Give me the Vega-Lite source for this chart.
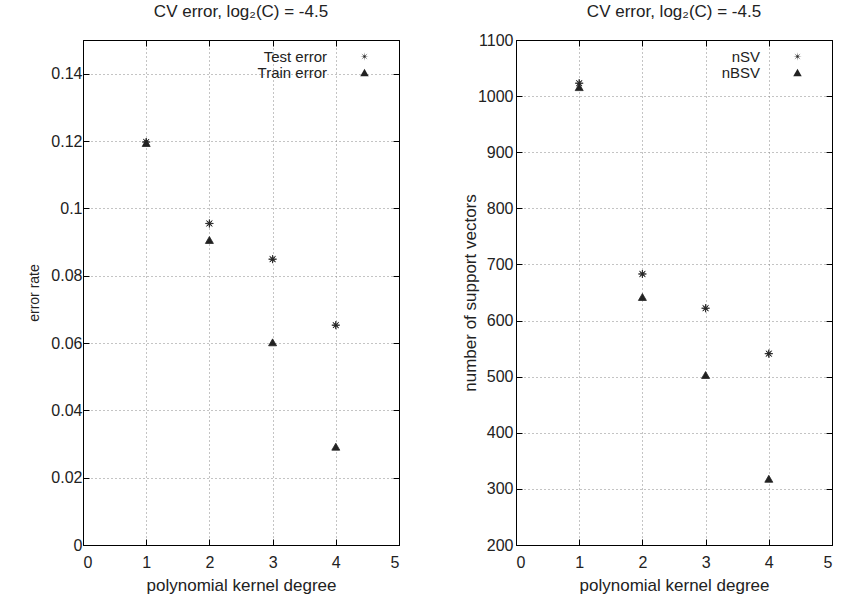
{
  "$schema": "https://vega.github.io/schema/vega-lite/v6.json",
  "background": "white",
  "padding": {"left": 27, "top": 2, "right": 0, "bottom": 0},
  "spacing": 60,
  "config": {
    "font": "Liberation Sans",
    "view": {"stroke": "black", "strokeWidth": 1},
    "axis": {
      "labelFontSize": 16, "labelColor": "#222", "labelFont": "Liberation Sans",
      "titleFontSize": 17, "titleFontWeight": "normal", "titleColor": "#222", "titleFont": "Liberation Sans",
      "domainColor": "black", "tickColor": "black", "tickSize": -6,
      "gridColor": "#888", "gridDash": [1, 3], "gridWidth": 1, "gridOpacity": 1
    },
    "title": {"fontSize": 17, "fontWeight": "normal", "color": "#222", "font": "Liberation Sans"},
    "legend": {
      "orient": "none", "legendX": 169, "legendY": 9, "padding": 0,
      "labelFontSize": 15, "labelColor": "#222", "labelAlign": "right",
      "symbolOffset": 105, "labelOffset": -45, "rowPadding": -5,
      "symbolFillColor": "#222", "symbolStrokeColor": "#222", "symbolStrokeWidth": 1.3, "symbolSize": 72, "title": null
    }
  },
  "datasets": {
    "errors": [
      {"degree": 1, "series": "Test error", "value": 0.1197},
      {"degree": 2, "series": "Test error", "value": 0.0955},
      {"degree": 3, "series": "Test error", "value": 0.0849},
      {"degree": 4, "series": "Test error", "value": 0.0653},
      {"degree": 1, "series": "Train error", "value": 0.1194},
      {"degree": 2, "series": "Train error", "value": 0.0906},
      {"degree": 3, "series": "Train error", "value": 0.0602},
      {"degree": 4, "series": "Train error", "value": 0.0292}
    ],
    "svs": [
      {"degree": 1, "series": "nSV", "count": 1023},
      {"degree": 2, "series": "nSV", "count": 683},
      {"degree": 3, "series": "nSV", "count": 622},
      {"degree": 4, "series": "nSV", "count": 541},
      {"degree": 1, "series": "nBSV", "count": 1016},
      {"degree": 2, "series": "nBSV", "count": 642},
      {"degree": 3, "series": "nBSV", "count": 503},
      {"degree": 4, "series": "nBSV", "count": 318}
    ]
  },
  "hconcat": [
    {
      "width": 316, "height": 505,
      "title": {"text": "CV error, log₂(C) = -4.5", "offset": 19},
      "data": {"name": "errors"},
      "layer": [
        {
          "mark": {"type": "point", "filled": true, "color": "#222", "stroke": "#222", "strokeWidth": 0.8, "opacity": 1, "size": 64},
          "encoding": {
            "x": {"field": "degree", "type": "quantitative", "scale": {"domain": [0, 5], "nice": false},
                  "axis": {"values": [0, 1, 2, 3, 4, 5], "title": "polynomial kernel degree", "labelPadding": 15, "titlePadding": 7}},
            "y": {"field": "value", "type": "quantitative", "scale": {"domain": [0, 0.15], "nice": false},
                  "axis": {"values": [0, 0.02, 0.04, 0.06, 0.08, 0.1, 0.12, 0.14], "format": "~g", "title": "error rate", "titleFontSize": 14, "labelPadding": 7, "titlePadding": 9}},
            "shape": {"field": "series", "type": "nominal", "sort": ["Test error", "Train error"],
                      "scale": {"domain": ["Test error", "Train error"], "range": ["M1,0L0.185,0.077L0.707,0.707L0.077,0.185L0,1L-0.077,0.185L-0.707,0.707L-0.185,0.077L-1,0L-0.185,-0.077L-0.707,-0.707L-0.077,-0.185L0,-1L0.077,-0.185L0.707,-0.707L0.185,-0.077Z", "triangle-up"]}}
          }
        },
        {
          "mark": {"type": "point", "opacity": 0},
          "encoding": {
            "x": {"field": "degree", "type": "quantitative",
                  "axis": {"orient": "top", "values": [0, 1, 2, 3, 4, 5], "labels": false, "grid": false, "title": null}},
            "y": {"field": "value", "type": "quantitative",
                  "axis": {"orient": "right", "values": [0, 0.02, 0.04, 0.06, 0.08, 0.1, 0.12, 0.14], "labels": false, "grid": false, "title": null}}
          }
        }
      ],
      "resolve": {"axis": {"x": "independent", "y": "independent"}}
    },
    {
      "width": 316, "height": 505,
      "title": {"text": "CV error, log₂(C) = -4.5", "offset": 11},
      "data": {"name": "svs"},
      "layer": [
        {
          "mark": {"type": "point", "filled": true, "color": "#222", "stroke": "#222", "strokeWidth": 0.8, "opacity": 1, "size": 64},
          "encoding": {
            "x": {"field": "degree", "type": "quantitative", "scale": {"domain": [0, 5], "nice": false},
                  "axis": {"values": [0, 1, 2, 3, 4, 5], "title": "polynomial kernel degree", "labelPadding": 15, "titlePadding": 7}},
            "y": {"field": "count", "type": "quantitative", "scale": {"domain": [200, 1100], "nice": false},
                  "axis": {"values": [200, 300, 400, 500, 600, 700, 800, 900, 1000, 1100], "format": "d", "title": "number of support vectors", "labelPadding": 9, "titlePadding": -2}},
            "shape": {"field": "series", "type": "nominal", "sort": ["nSV", "nBSV"],
                      "scale": {"domain": ["nSV", "nBSV"], "range": ["M1,0L0.185,0.077L0.707,0.707L0.077,0.185L0,1L-0.077,0.185L-0.707,0.707L-0.185,0.077L-1,0L-0.185,-0.077L-0.707,-0.707L-0.077,-0.185L0,-1L0.077,-0.185L0.707,-0.707L0.185,-0.077Z", "triangle-up"]}}
          }
        },
        {
          "mark": {"type": "point", "opacity": 0},
          "encoding": {
            "x": {"field": "degree", "type": "quantitative",
                  "axis": {"orient": "top", "values": [0, 1, 2, 3, 4, 5], "labels": false, "grid": false, "title": null}},
            "y": {"field": "count", "type": "quantitative",
                  "axis": {"orient": "right", "values": [200, 300, 400, 500, 600, 700, 800, 900, 1000, 1100], "labels": false, "grid": false, "title": null}}
          }
        }
      ],
      "resolve": {"axis": {"x": "independent", "y": "independent"}}
    }
  ],
  "resolve": {"scale": {"shape": "independent"}, "legend": {"shape": "independent"}}
}
